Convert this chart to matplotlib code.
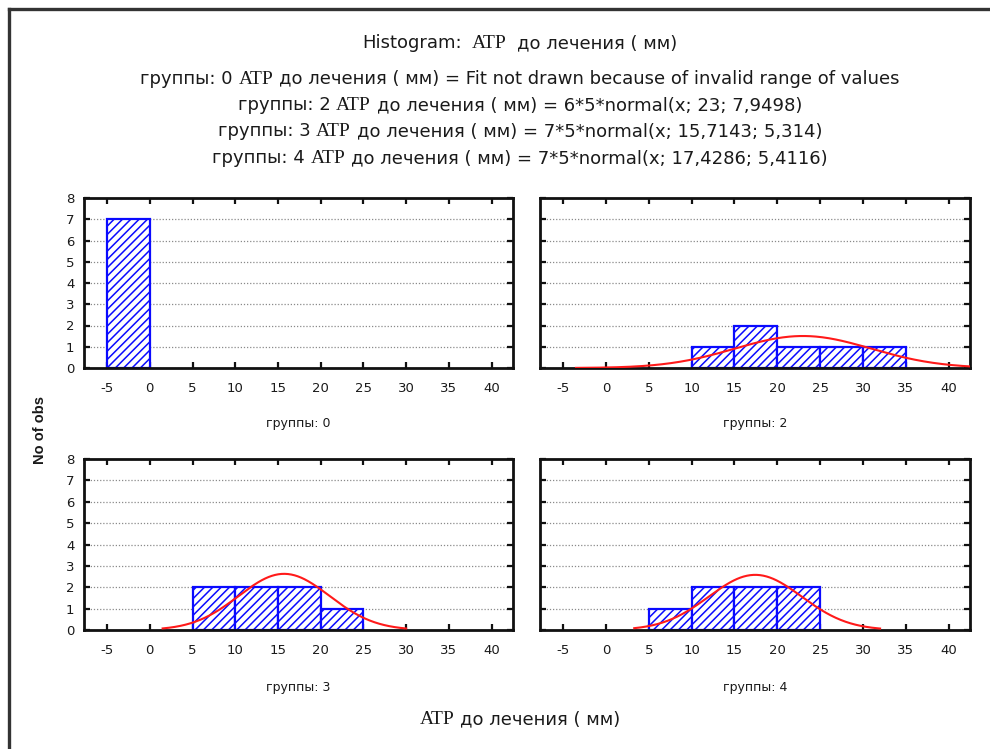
import numpy as np
import matplotlib
matplotlib.use("Agg")
import matplotlib.pyplot as plt
from matplotlib.lines import Line2D

plt.rcParams["axes.unicode_minus"] = False
plt.rcParams["hatch.linewidth"] = 1.1

# ---- data -------------------------------------------------------------
bin_edges = [-5, 0, 5, 10, 15, 20, 25, 30, 35, 40]
group_names = ["0", "2", "3", "4"]
counts_g0 = [7, 0, 0, 0, 0, 0, 0, 0, 0]
counts_g2 = [0, 0, 0, 1, 2, 1, 1, 1, 0]
counts_g3 = [0, 0, 2, 2, 2, 1, 0, 0, 0]
counts_g4 = [0, 0, 1, 2, 2, 2, 0, 0, 0]
all_counts = [counts_g0, counts_g2, counts_g3, counts_g4]

# normal fits: (n, mean, sd); None where the fit is not drawn
fit_params = [None, (6, 23.0, 7.9498), (7, 15.7143, 5.314), (7, 17.4286, 5.4116)]
fit_ranges = [None, (-3.5, 42.5), (1.5, 30.0), (3.3, 32.0)]
fit_texts = [
    "Fit not drawn because of invalid range of values",
    "6*5*normal(x; 23; 7,9498)",
    "7*5*normal(x; 15,7143; 5,314)",
    "7*5*normal(x; 17,4286; 5,4116)",
]
x_ticks = [-5, 0, 5, 10, 15, 20, 25, 30, 35, 40]
y_ticks = [0, 1, 2, 3, 4, 5, 6, 7, 8]
bin_width = 5

SANS = "DejaVu Sans"
SERIF = "Liberation Serif"
TXT = "#1a1a1a"

W, H = 990, 749
fig = plt.figure(figsize=(W / 100, H / 100), dpi=100)
fig.patch.set_facecolor("white")

# panel rectangles (left, bottom, width, height) in figure fractions
panels = [
    (84 / W, 1 - 368 / H, 429 / W, 170 / H),
    (540 / W, 1 - 368 / H, 430 / W, 170 / H),
    (84 / W, 1 - 630 / H, 429 / W, 171 / H),
    (540 / W, 1 - 630 / H, 430 / W, 171 / H),
]
label_y = [1 - 424 / H, 1 - 424 / H, 1 - 688 / H, 1 - 688 / H]

for i, (rect, counts) in enumerate(zip(panels, all_counts)):
    ax = fig.add_axes(rect)
    lefts = [e for e, c in zip(bin_edges[:-1], counts) if c > 0]
    heights = [c for c in counts if c > 0]
    ax.bar(lefts, heights, width=bin_width, align="edge", facecolor="white",
           edgecolor="#0a0aff", hatch="////", linewidth=1.6, zorder=2)
    if fit_params[i] is not None:
        n, mu, sd = fit_params[i]
        lo, hi = fit_ranges[i]
        xs = np.linspace(lo, hi, 300)
        ys = n * bin_width * np.exp(-0.5 * ((xs - mu) / sd) ** 2) / (sd * np.sqrt(2 * np.pi))
        ax.plot(xs, ys, color="#ff1a1a", linewidth=1.5, zorder=4, clip_on=True)
    ax.set_xlim(-7.7, 42.5)
    ax.set_ylim(0, 8)
    ax.set_xticks(x_ticks)
    ax.set_yticks(y_ticks)
    ax.yaxis.grid(True, linestyle=(0, (1, 1.5)), color="#8a8a8a", linewidth=0.9, zorder=1)
    ax.set_axisbelow(True)
    for sp in ax.spines.values():
        sp.set_linewidth(2.0)
        sp.set_color("#111111")
    ax.tick_params(direction="in", top=True, right=True, length=4, width=1.6,
                   colors="#111111", labelsize=9.5, pad=10)
    for lab in ax.get_xticklabels() + ax.get_yticklabels():
        lab.set_family(SANS)
        lab.set_color(TXT)
    ax.tick_params(axis="y", pad=7)
    if i in (1, 3):
        ax.tick_params(axis="y", labelleft=False)
    cx = rect[0] + rect[2] / 2
    fig.text(cx, label_y[i], "группы: " + group_names[i], ha="center", va="center",
             family=SANS, fontsize=9, color=TXT)

renderer = fig.canvas.get_renderer()


def mixed_line(cx, y, parts, gap=4.0):
    """Draw a centred line built from segments in different font families."""
    texts = []
    for s, fam, size in parts:
        texts.append(fig.text(0, y, s, family=fam, fontsize=size, va="baseline",
                              ha="left", color=TXT))
    widths = [t.get_window_extent(renderer).width for t in texts]
    total = sum(widths) + gap * (len(texts) - 1)
    x = cx * W - total / 2
    for t, w in zip(texts, widths):
        t.set_x(x / W)
        x += w + gap


CX = 520 / W
FS = 13
FS_SERIF = 14
mixed_line(CX, 1 - 48 / H, [("Histogram:", SANS, FS), ("ATP", SERIF, FS_SERIF),
                            ("до лечения ( мм)", SANS, FS)], gap=10)
line_ys = [84, 110, 136, 163]
for gname, ftxt, ly in zip(group_names, fit_texts, line_ys):
    mixed_line(CX, 1 - ly / H, [("группы: " + gname, SANS, FS), ("ATP", SERIF, FS_SERIF),
                                ("до лечения ( мм) = " + ftxt, SANS, FS)], gap=6)

mixed_line(CX, 1 - 724 / H, [("ATP", SERIF, FS_SERIF), ("до лечения ( мм)", SANS, FS)], gap=6)

fig.text(40 / W, 1 - 430 / H, "No of obs", rotation=90, ha="center", va="center",
         family="Liberation Sans", fontsize=10.5, fontweight="bold", color=TXT)

# outer frame along the top and left edges
fig.add_artist(Line2D([8.5 / W, 1.0], [1 - 8.5 / H, 1 - 8.5 / H], color="#333333",
                      linewidth=2.4, transform=fig.transFigure))
fig.add_artist(Line2D([8.5 / W, 8.5 / W], [0.0, 1 - 8.5 / H], color="#333333",
                      linewidth=2.4, transform=fig.transFigure))

fig.savefig("out.png", dpi=100, facecolor="white")
